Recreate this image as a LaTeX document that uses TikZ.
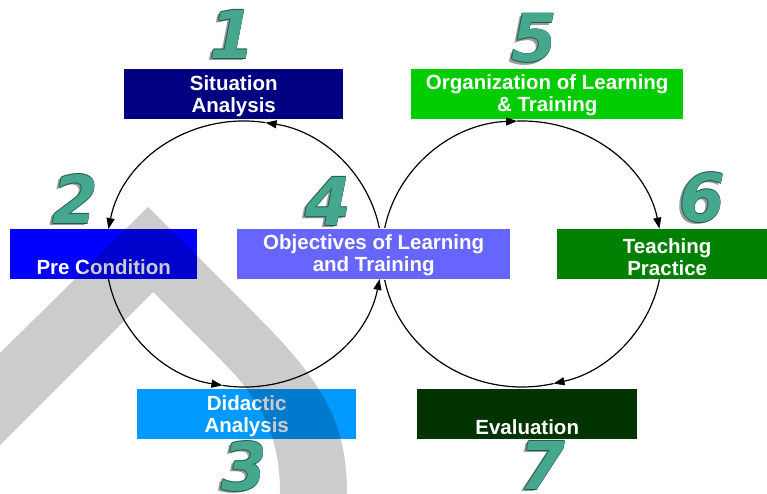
\documentclass[tikz,border=0pt]{standalone}
\usepackage{fontspec}
\setmainfont{Liberation Sans}
\newfontfamily\digitfont{DejaVu Sans Bold Oblique}
\usetikzlibrary{arrows.meta}
\definecolor{cSit}{HTML}{000080}
\definecolor{cPre}{HTML}{0000FF}
\definecolor{cDid}{HTML}{0099FF}
\definecolor{cObj}{HTML}{6666FF}
\definecolor{cOrg}{HTML}{00CC00}
\definecolor{cTea}{HTML}{008000}
\definecolor{cEva}{HTML}{003300}
\definecolor{digfill}{HTML}{45A88E}
\definecolor{digedge}{HTML}{1F5A4C}
\definecolor{digshadow}{HTML}{9A9A9A}
\newcommand\tealdigit[1]{\leavevmode
 \rlap{\kern-2.6pt\lower2.2pt\hbox{\color{digshadow}#1}}%
 \rlap{\kern-0.8pt\hbox{\color{digedge}#1}}%
 \rlap{\kern0.8pt\hbox{\color{digedge}#1}}%
 \rlap{\raise0.8pt\hbox{\color{digedge}#1}}%
 \rlap{\lower0.8pt\hbox{\color{digedge}#1}}%
 \hbox{\color{digfill}#1}}
\tikzset{
  box/.style={rectangle, minimum height=50pt, inner sep=0pt, anchor=north west},
  lbl/.style={inner sep=0pt, text=white, align=center, font=\bfseries\fontsize{20.5}{21.5}\selectfont},
  digit/.style={inner sep=0pt, font=\digitfont\fontsize{66}{66}\selectfont},
  conn/.style={line width=1.2pt, black},
  tip/.style={conn, -{Triangle[length=11pt,width=8pt]}},
}
\begin{document}
\begin{tikzpicture}[x=1pt,y=1pt]
\useasboundingbox (0,0) rectangle (767,-494);
% boxes
\node[box, fill=cSit, minimum width=219pt] (s1) at (124,-69) {};
\node[box, fill=cPre, minimum width=187pt] (s2) at (10,-229) {};
\node[box, fill=cDid, minimum width=219pt] (s3) at (137,-389) {};
\node[box, fill=cObj, minimum width=273pt] (s4) at (237,-229) {};
\node[box, fill=cOrg, minimum width=272pt] (s5) at (411,-69) {};
\node[box, fill=cTea, minimum width=210pt] (s6) at (557,-229) {};
\node[box, fill=cEva, minimum width=220pt] (s7) at (417,-389) {};
% texts
\node[lbl] (t1) at ([yshift=-2pt]s1.center) {Situation\\Analysis};
\node[lbl] (t2) at ([yshift=-13pt]s2.center) {Pre Condition};
\node[lbl] (t3) at ([yshift=-2pt]s3.center) {Didactic\\Analysis};
\node[lbl] (t4) at ([yshift=-1pt]s4.center) {Objectives of Learning\\and Training};
\node[lbl] (t5) at ([yshift=-1pt]s5.center) {Organization of Learning\\\& Training};
\node[lbl] (t6) at ([xshift=5pt,yshift=-3pt]s6.center) {Teaching\\Practice};
\node[lbl] (t7) at ([yshift=-13pt]s7.center) {Evaluation};
% digits
\node[digit] (d1) at (232,-35) {\tealdigit{1}};
\node[digit] (d2) at (75,-200) {\tealdigit{2}};
\node[digit] (d3) at (244,-467) {\tealdigit{3}};
\node[digit] (d4) at (328,-202) {\tealdigit{4}};
\node[digit] (d5) at (534,-39) {\tealdigit{5}};
\node[digit] (d6) at (702,-198) {\tealdigit{6}};
\node[digit] (d7) at (542,-466) {\tealdigit{7}};
% loop centres
\coordinate (Lc) at (244,-254);
\coordinate (Rc) at (522,-254);
\path (Lc) ++(11.3:138 and 133) coordinate (a1);
\path (Lc) ++(81:138 and 133) coordinate (a2);
\path (Lc) ++(190.8:138 and 133) coordinate (a3);
\path (Lc) ++(261:138 and 133) coordinate (a4);
\path (Rc) ++(168.7:140 and 133) coordinate (b1);
\path (Rc) ++(92:140 and 133) coordinate (b2);
\path (Rc) ++(-11:140 and 133) coordinate (b3);
\path (Rc) ++(-77:140 and 133) coordinate (b4);
% left loop
\draw[tip] (a1) arc[start angle=11.3, end angle=81, x radius=138, y radius=133];
\draw[tip] (a2) arc[start angle=81, end angle=169.2, x radius=138, y radius=133];
\draw[tip] (a3) arc[start angle=190.8, end angle=261, x radius=138, y radius=133];
\draw[tip] (a4) arc[start angle=261, end angle=349.2, x radius=138, y radius=133];
% right loop
\draw[tip] (b1) arc[start angle=168.7, end angle=92, x radius=140, y radius=133];
\draw[tip] (b2) arc[start angle=92, end angle=11, x radius=140, y radius=133];
\draw[tip] (b3) arc[start angle=-11, end angle=-77, x radius=140, y radius=133];
\draw[conn] (b4) arc[start angle=-77, end angle=-168.7, x radius=140, y radius=133];
% watermark
\fill[black, opacity=0.2]
  (0,-353) -- (148,-207) -- (258,-317)
  .. controls (325,-384) and (347,-425) .. (347,-494)
  -- (280,-494)
  .. controls (280,-445) and (268,-407) .. (222,-361)
  -- (153,-292) -- (0,-445) -- cycle;
\end{tikzpicture}
\end{document}
